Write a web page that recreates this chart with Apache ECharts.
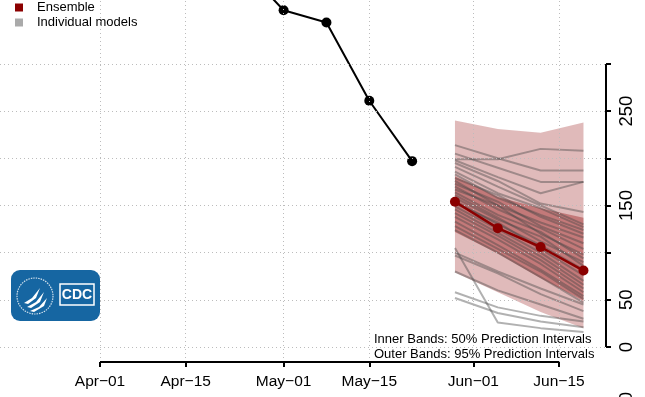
<!DOCTYPE html>
<html><head><meta charset="utf-8">
<style>html,body{margin:0;padding:0;background:#fff}#c{width:645px;height:397px}</style>
<script src="https://cdn.jsdelivr.net/npm/echarts@6/dist/echarts.min.js"></script>
</head><body><div id="c"></div>
<script>
// ---------- data ----------
const originDate = '2021-04-01';
const xTickDates = ['2021-04-01','2021-04-15','2021-05-01','2021-05-15','2021-06-01','2021-06-15'];
const xTickLabels = ['Apr\u221201','Apr\u221215','May\u221201','May\u221215','Jun\u221201','Jun\u221215'];
const yTicks = [0,50,100,150,200,250,300];
const yLabelValues = [0,50,150,250];

const observedDates = ['2021-04-24','2021-05-01','2021-05-08','2021-05-15','2021-05-22'];
const observedValues = [405,357,344,261,197];

const forecastDates = ['2021-05-29','2021-06-05','2021-06-12','2021-06-19'];
const ensembleValues = [154,126,106,81];
const outerLower = [79,58,37,20];
const outerUpper = [240,231,227,238];
const innerLower = [122,99,73,49];
const innerUpper = [181,159,147,137];

const individualModels = [
  [199,199,210,208],[214,200,187,187],[205,190,175,175],[198,180,163,175],
  [195,176,152,143],[191,170,150,130],[186,163,147,127],[183,158,140,124],
  [179,161,138,120],[176,150,132,116],[173,154,128,110],[170,146,126,104],
  [167,150,120,98],[164,140,122,94],[161,137,112,90],[158,135,117,86],
  [155,130,108,82],[152,132,104,76],[149,125,100,70],[146,121,96,66],
  [142,118,92,62],[138,114,88,58],[133,108,82,54],[128,104,80,51],
  [124,100,74,47],[105,26,20,16],[100,80,62,45],[97,78,56,38],
  [80,60,45,30],[58,42,33,27],[52,36,27,21]
];

// ---------- layout ----------
const FONT = '"Liberation Sans", Arial, Helvetica, sans-serif';
const xMin = -16.34, xMax = 82.68;
const yMin = -15.9, yMax = 367.8;

const day = s => (Date.parse(s) - Date.parse(originDate)) / 864e5;
const xT = xTickDates.map(day);
const obsX = observedDates.map(day);
const fcX = forecastDates.map(day);

function band(lo, hi, color, z) {
  const data = fcX.map((x, i) => [x, lo[i], hi[i]]);
  return {
    type: 'custom', z, silent: true, data,
    encode: { x: 0, y: [1, 2] },
    renderItem(params, api) {
      if (params.dataIndex !== 0) return;
      const top = data.map(d => api.coord([d[0], d[2]]));
      const bot = data.map(d => api.coord([d[0], d[1]])).reverse();
      return { type: 'polygon', shape: { points: top.concat(bot) }, style: { fill: color } };
    }
  };
}

const series = [];
// gridlines
series.push({
  type: 'line', data: [[xT[0], 0]], showSymbol: false, silent: true, z: 0,
  lineStyle: { opacity: 0 },
  markLine: {
    silent: true, symbol: 'none', label: { show: false }, animation: false,
    lineStyle: { type: [1, 3], color: '#bcbcbc', width: 1 },
    data: xT.map(v => ({ xAxis: v })).concat(yTicks.map(v => ({ yAxis: v })))
  }
});
series.push(band(outerLower, outerUpper, 'rgba(139,0,0,0.27)', 1));
series.push(band(innerLower, innerUpper, 'rgba(139,0,0,0.35)', 1));
individualModels.forEach(m => series.push({
  name: 'Individual models', type: 'line', z: 2, silent: true,
  data: fcX.map((x, i) => [x, m[i]]), showSymbol: false,
  itemStyle: { color: '#aaaaaa' },
  lineStyle: { color: 'rgba(70,70,70,0.42)', width: 2 }
}));
series.push({
  name: 'Observed', type: 'line', z: 4, silent: true,
  data: obsX.map((x, i) => [x, observedValues[i]]),
  symbol: 'circle', symbolSize: 10, showSymbol: true,
  itemStyle: { color: '#000', borderWidth: 0 }, lineStyle: { color: '#000', width: 2 }
});
series.push({
  name: 'Ensemble', type: 'line', z: 5, silent: true,
  data: fcX.map((x, i) => [x, ensembleValues[i]]),
  symbol: 'circle', symbolSize: 10, showSymbol: true,
  itemStyle: { color: '#8b0000', borderWidth: 0 }, lineStyle: { color: '#8b0000', width: 2.5 }
});
// axis lines spanning first..last tick
series.push({
  type: 'line', z: 6, silent: true, clip: false, showSymbol: false,
  data: [[xT[0], yMin], [xT[xT.length - 1], yMin]],
  lineStyle: { color: '#000', width: 2 }
});
series.push({
  type: 'line', z: 6, silent: true, clip: false, showSymbol: false,
  data: [[xMax, yTicks[0]], [xMax, yTicks[yTicks.length - 1]]],
  lineStyle: { color: '#000', width: 2 }
});

const option = {
  animation: false,
  backgroundColor: '#fff',
  textStyle: { fontFamily: FONT },
  grid: { left: 0, right: 39, top: 0, bottom: 35, containLabel: false },
  xAxis: {
    type: 'value', min: xMin, max: xMax,
    axisLine: { show: false, onZero: false },
    splitLine: { show: false },
    axisTick: { show: true, customValues: xT, length: 5, lineStyle: { color: '#000', width: 2 } },
    axisLabel: {
      customValues: xT, fontSize: 15.5, color: '#000', fontFamily: FONT, margin: 12,
      formatter: v => { const i = xT.findIndex(t => Math.abs(t - v) < 1e-6); return i >= 0 ? xTickLabels[i] : ''; }
    }
  },
  yAxis: {
    type: 'value', position: 'right', min: yMin, max: yMax,
    axisLine: { show: false, onZero: false },
    splitLine: { show: false },
    axisTick: { show: true, customValues: yTicks, length: 5, lineStyle: { color: '#000', width: 2 } },
    axisLabel: { customValues: yLabelValues, rotate: 90, fontSize: 18.5, color: '#000', fontFamily: FONT, margin: 11 }
  },
  legend: {
    orient: 'vertical', left: 15, top: 0, padding: 0, itemGap: 0,
    icon: 'rect', itemWidth: 8, itemHeight: 8,
    itemStyle: { borderWidth: 0 },
    textStyle: { fontSize: 13, color: '#000', fontFamily: FONT, lineHeight: 15, padding: [0, 0, 0, 9] },
    data: [
      { name: 'Ensemble', itemStyle: { color: '#8b0000' } },
      { name: 'Individual models', itemStyle: { color: '#aaaaaa' } }
    ]
  },
  graphic: [
    { type: 'text', x: 374, y: 339, z: 10, style: { text: 'Inner Bands: 50% Prediction Intervals', font: '13px ' + FONT, fill: '#000', verticalAlign: 'middle' } },
    { type: 'text', x: 374, y: 354, z: 10, style: { text: 'Outer Bands: 95% Prediction Intervals', font: '13px ' + FONT, fill: '#000', verticalAlign: 'middle' } },
    { type: 'text', x: 627, y: 397, rotation: Math.PI / 2, z: 10, style: { text: '0', font: '18.5px ' + FONT, fill: '#000', align: 'center', verticalAlign: 'middle' } },
    { type: 'rect', z: 10, shape: { x: 11, y: 270, width: 89, height: 51, r: 9 }, style: { fill: '#1666a2' } },
    { type: 'circle', z: 11, shape: { cx: 35, cy: 296, r: 18 }, style: { fill: 'none', stroke: 'rgba(255,255,255,0.8)', lineWidth: 1.2, lineDash: [1.5, 1] } },
    { type: 'polygon', z: 11, shape: { points: [[24,303],[32,298],[40,288],[36,298],[28,304]] }, style: { fill: '#fff' } },
    { type: 'polygon', z: 11, shape: { points: [[27,307],[36,302],[44,292],[40,302],[31,308]] }, style: { fill: '#fff' } },
    { type: 'polygon', z: 11, shape: { points: [[30,311],[39,307],[47,298],[44,306],[34,312]] }, style: { fill: '#fff' } },
    { type: 'rect', z: 11, shape: { x: 60, y: 284, width: 34, height: 21 }, style: { fill: 'none', stroke: '#fff', lineWidth: 1.5 } },
    { type: 'text', z: 11, x: 77, y: 295, style: { text: 'CDC', font: 'bold 14px ' + FONT, fill: '#fff', align: 'center', verticalAlign: 'middle' } }
  ],
  series
};
echarts.init(document.getElementById('c'), null, { renderer: 'canvas' }).setOption(option);
</script></body></html>
